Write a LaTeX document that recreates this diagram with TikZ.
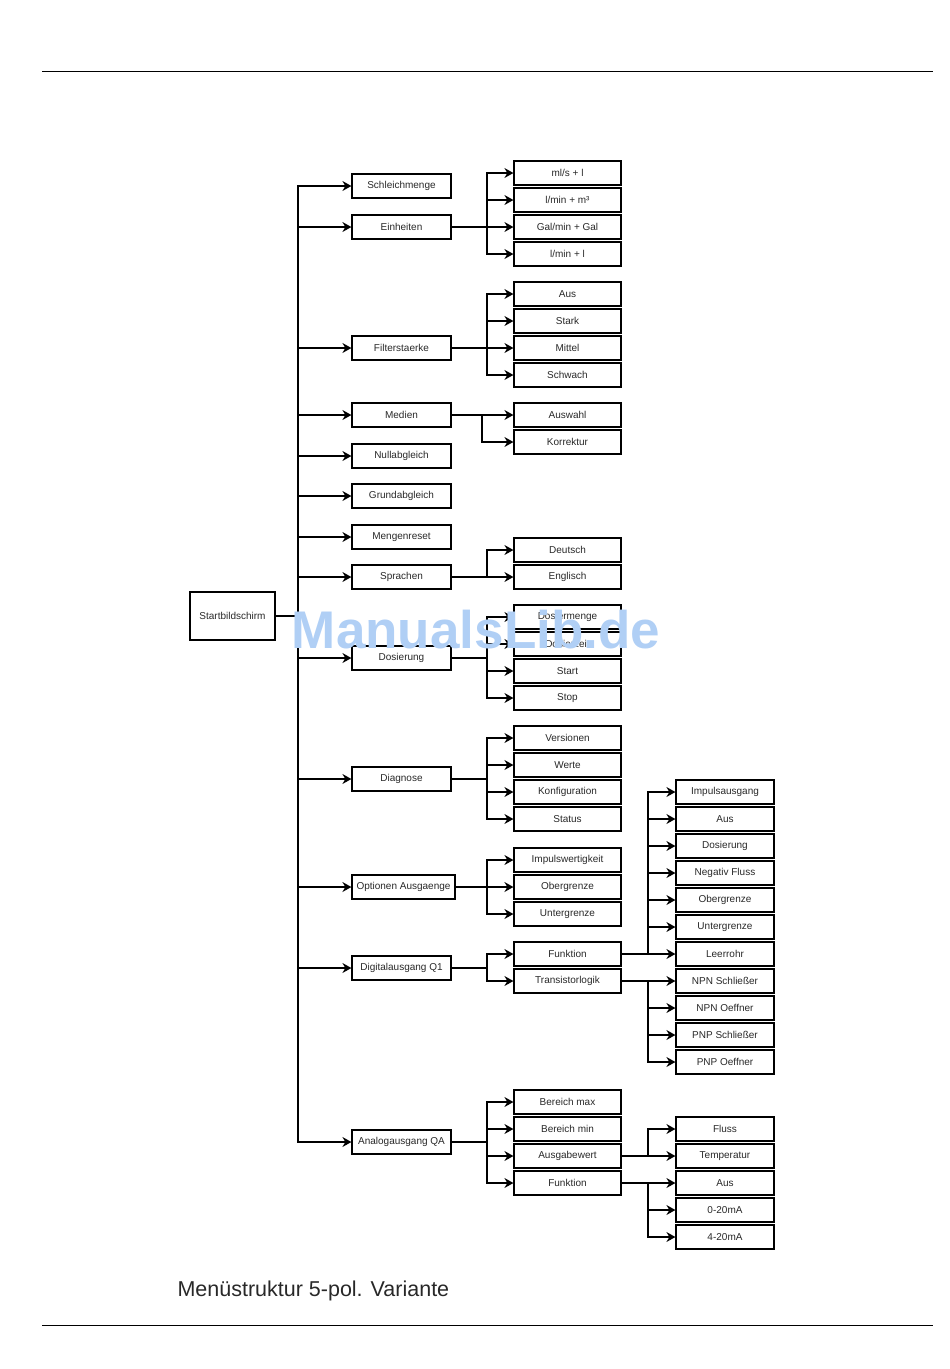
\documentclass[tikz,border=0pt]{standalone}
\usepackage{fontspec}
\setmainfont{Liberation Sans}
\usetikzlibrary{arrows.meta}

\definecolor{wmblue}{RGB}{176,207,245}
\definecolor{txtgray}{RGB}{40,40,40}

\tikzset{
    box/.style={draw, line width=1.2pt, inner sep=0pt, minimum height=24pt,
        font=\fontsize{10}{12}\selectfont, text=txtgray},
    menu/.style={box, minimum width=99pt},
    sub/.style={box, minimum width=107pt},
    subsub/.style={box, minimum width=98pt},
    arr/.style={line width=1.2pt, -{Stealth[length=9pt,width=10pt,inset=3pt]}},
    thickarr/.style={arr, line width=2pt},
}

\begin{document}
\begin{tikzpicture}[x=1pt,y=-1pt]
    \useasboundingbox (0,0) rectangle (950,1369);
    % Page rules, caption
    \draw[line width=1pt] (42,71) -- (933,71);
    \draw[line width=1pt] (42,1325) -- (933,1325);
    \node[anchor=base west, font=\fontsize{21.5}{24}\selectfont, text=txtgray] (caption) at (174,1296) {Menüstruktur 5-pol. Variante};

    % Branch points
    \coordinate (trunk) at (298,616);
    \coordinate (br) at (487,0);
    \coordinate (brm) at (482,0);
    \coordinate (brs) at (648,0);

    % Root
    \node[box, minimum width=85pt, minimum height=48pt] (start) at (232.5,616) {Startbildschirm};
    \draw[line width=1.2pt] (start.east) -- (trunk);

    % First level
    \node[menu] (schleich) at (401.5,186) {Schleichmenge};
    \node[menu] (einh) at (401.5,227) {Einheiten};
    \node[menu] (filter) at (401.5,348) {Filterstaerke};
    \node[menu] (medien) at (401.5,415) {Medien};
    \node[menu] (null) at (401.5,456) {Nullabgleich};
    \node[menu] (grund) at (401.5,496) {Grundabgleich};
    \node[menu] (reset) at (401.5,537) {Mengenreset};
    \node[menu] (sprachen) at (401.5,577) {Sprachen};
    \node[menu] (dos) at (401.5,658) {Dosierung};
    \node[menu] (diag) at (401.5,779) {Diagnose};
    \node[box, minimum width=103pt] (opt) at (403.5,887) {Optionen Ausgaenge};
    \node[menu] (dig) at (401.5,968) {Digitalausgang Q1};
    \node[menu] (ana) at (401.5,1142) {Analogausgang QA};
    \foreach \m in {schleich,filter,medien,null,grund,reset,sprachen,dos,diag,dig,ana}
        \draw[arr] (trunk) |- (\m.west);
    \draw[thickarr] (trunk) |- (einh.west);
    \draw[thickarr] (trunk) |- (opt.west);

    % Einheiten
    \node[sub] (einh1) at (567.5,173) {ml/s + l};
    \node[sub] (einh2) at (567.5,200) {l/min + m³};
    \node[sub] (einh3) at (567.5,227) {Gal/min + Gal};
    \node[sub] (einh4) at (567.5,254) {l/min + l};
    \foreach \c in {einh1,einh2,einh4}
        \draw[arr] (einh.east) -- (einh.east -| br) |- (\c.west);
    \draw[thickarr] (einh.east) -- (einh3.west);

    % Filterstaerke
    \node[sub] (filter1) at (567.5,294) {Aus};
    \node[sub] (filter2) at (567.5,321) {Stark};
    \node[sub] (filter3) at (567.5,348) {Mittel};
    \node[sub] (filter4) at (567.5,375) {Schwach};
    \foreach \c in {filter1,filter2,filter3,filter4}
        \draw[arr] (filter.east) -- (filter.east -| br) |- (\c.west);

    % Medien
    \node[sub] (medien1) at (567.5,415) {Auswahl};
    \node[sub] (medien2) at (567.5,442) {Korrektur};
    \foreach \c in {medien1,medien2}
        \draw[arr] (medien.east) -- (medien.east -| brm) |- (\c.west);

    % Sprachen
    \node[sub] (sprachen1) at (567.5,550) {Deutsch};
    \node[sub] (sprachen2) at (567.5,577) {Englisch};
    \foreach \c in {sprachen1,sprachen2}
        \draw[arr] (sprachen.east) -- (sprachen.east -| br) |- (\c.west);

    % Dosierung
    \node[sub] (dos1) at (567.5,617) {Dosiermenge};
    \node[sub] (dos2) at (567.5,644) {Dosierzeit};
    \node[sub] (dos3) at (567.5,671) {Start};
    \node[sub] (dos4) at (567.5,698) {Stop};
    \foreach \c in {dos1,dos2,dos3,dos4}
        \draw[arr] (dos.east) -- (dos.east -| br) |- (\c.west);

    % Diagnose
    \node[sub] (diag1) at (567.5,738) {Versionen};
    \node[sub] (diag2) at (567.5,765) {Werte};
    \node[sub] (diag3) at (567.5,792) {Konfiguration};
    \node[sub] (diag4) at (567.5,819) {Status};
    \foreach \c in {diag1,diag2,diag3,diag4}
        \draw[arr] (diag.east) -- (diag.east -| br) |- (\c.west);

    % Optionen Ausgaenge
    \node[sub] (opt1) at (567.5,860) {Impulswertigkeit};
    \node[sub] (opt2) at (567.5,887) {Obergrenze};
    \node[sub] (opt3) at (567.5,914) {Untergrenze};
    \foreach \c in {opt1,opt3}
        \draw[arr] (opt.east) -- (opt.east -| br) |- (\c.west);
    \draw[thickarr] (opt.east) -- (opt2.west);

    % Digitalausgang Q1
    \node[sub] (dig1) at (567.5,954) {Funktion};
    \node[sub] (dig2) at (567.5,981) {Transistorlogik};
    \foreach \c in {dig1,dig2}
        \draw[arr] (dig.east) -- (dig.east -| br) |- (\c.west);
    \node[subsub] (fkt1) at (725,792) {Impulsausgang};
    \node[subsub] (fkt2) at (725,819) {Aus};
    \node[subsub] (fkt3) at (725,846) {Dosierung};
    \node[subsub] (fkt4) at (725,873) {Negativ Fluss};
    \node[subsub] (fkt5) at (725,900) {Obergrenze};
    \node[subsub] (fkt6) at (725,927) {Untergrenze};
    \node[subsub] (fkt7) at (725,954) {Leerrohr};
    \node[subsub] (tl1) at (725,981) {NPN Schließer};
    \node[subsub] (tl2) at (725,1008) {NPN Oeffner};
    \node[subsub] (tl3) at (725,1035) {PNP Schließer};
    \node[subsub] (tl4) at (725,1062) {PNP Oeffner};
    \foreach \c in {fkt1,fkt2,fkt3,fkt4,fkt5,fkt6,fkt7}
        \draw[arr] (dig1.east) -- (dig1.east -| brs) |- (\c.west);
    \foreach \c in {tl1,tl2,tl3,tl4}
        \draw[arr] (dig2.east) -- (dig2.east -| brs) |- (\c.west);

    % Analogausgang QA
    \node[sub] (ana1) at (567.5,1102) {Bereich max};
    \node[sub] (ana2) at (567.5,1129) {Bereich min};
    \node[sub] (ana3) at (567.5,1156) {Ausgabewert};
    \node[sub] (ana4) at (567.5,1183) {Funktion};
    \foreach \c in {ana1,ana2,ana3,ana4}
        \draw[arr] (ana.east) -- (ana.east -| br) |- (\c.west);
    \node[subsub] (aw1) at (725,1129) {Fluss};
    \node[subsub] (aw2) at (725,1156) {Temperatur};
    \node[subsub] (af1) at (725,1183) {Aus};
    \node[subsub] (af2) at (725,1210) {0-20mA};
    \node[subsub] (af3) at (725,1237) {4-20mA};
    \foreach \c in {aw1,aw2}
        \draw[arr] (ana3.east) -- (ana3.east -| brs) |- (\c.west);
    \foreach \c in {af1,af2,af3}
        \draw[arr] (ana4.east) -- (ana4.east -| brs) |- (\c.west);

    % Watermark
    \node[anchor=base, font=\bfseries\fontsize{53}{60}\selectfont, text=wmblue] (wm) at (476,648) {ManualsLib.de};
\end{tikzpicture}
\end{document}
